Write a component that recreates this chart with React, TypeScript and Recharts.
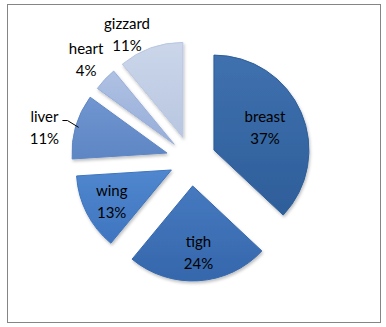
import React from "react";
import { PieChart, Pie, Cell } from "recharts";

const categories = ["breast", "tigh", "wing", "liver", "heart", "gizzard"];
const values = [37, 24, 13, 11, 4, 11];
const percentLabels = ["37%", "24%", "13%", "11%", "4%", "11%"];

const colors = ["#2E5E9A", "#3567AC", "#3E75BE", "#5E86C4", "#97AED9", "#B8C6E0"];
const lightColors = ["#3F71AE", "#4679BF", "#5087CF", "#7096D0", "#AFC1E3", "#CBD6EA"];
const explode = [25, 26, 22, 25, 23, 24];
const labelRadius = [0.59, 0.7, 0.71, 1.32, 1.29, 1.24];
const labelShift = [-1, -1.5, -0.7, -4, 0.8, -8.5];

const data = categories.map((name, i) => ({ name, value: values[i] }));
const total = values.reduce((a, b) => a + b, 0);

const CX = 191;
const CY = 160;
const R = 95;
const RAD = Math.PI / 180;

function midClock(i: number) {
  let cum = 0;
  for (let k = 0; k < i; k++) cum += values[k];
  return ((cum + values[i] / 2) / total) * 360;
}

function makeLabel(slice: number) {
  return (props: any) => {
    if (props.index !== slice) return null;
    const a = (midClock(slice) + labelShift[slice]) * RAD;
    const r = R * labelRadius[slice];
    const x = props.cx + r * Math.sin(a);
    const y = props.cy - r * Math.cos(a);
    const parts: any[] = [];
    if (categories[slice] === "liver") {
      const ea = midClock(slice) * RAD;
      const ex = props.cx + (R - 3) * Math.sin(ea);
      const ey = props.cy - (R - 3) * Math.cos(ea);
      parts.push(
        <polyline
          key="leader"
          points={`${x + 18},${y - 6} ${x + 23},${y - 6} ${ex},${ey}`}
          fill="none"
          stroke="#000"
          strokeWidth={1}
        />
      );
    }
    parts.push(
      <text
        key="t1"
        x={x}
        y={y - 11}
        textAnchor="middle"
        dominantBaseline="central"
        fontFamily="Lato"
        fontSize={15}
        fill="#000"
      >
        {categories[slice]}
      </text>
    );
    parts.push(
      <text
        key="t2"
        x={x}
        y={y + 11}
        textAnchor="middle"
        dominantBaseline="central"
        fontFamily="Lato"
        fontSize={15}
        fill="#000"
      >
        {percentLabels[slice]}
      </text>
    );
    return <g>{parts}</g>;
  };
}

export default function App() {
  return (
    <div style={{ position: "absolute", left: 0, top: 0, width: 386, height: 327, background: "#fff" }}>
      <div
        style={{
          position: "absolute",
          left: 7,
          top: 4,
          width: 372,
          height: 317,
          border: "1px solid #858585",
          boxSizing: "content-box",
        }}
      />
      <div style={{ position: "absolute", left: 0, top: 0 }}>
        <PieChart width={386} height={327} margin={{ top: 0, right: 0, bottom: 0, left: 0 }}>
          <defs>
            {categories.map((c, i) => (
              <linearGradient key={c} id={`grad-${i}`} x1="0" y1="0" x2="0" y2="1">
                <stop offset="0%" stopColor={lightColors[i]} />
                <stop offset="100%" stopColor={colors[i]} />
              </linearGradient>
            ))}
            <filter id="shadow" x="-20%" y="-20%" width="140%" height="140%">
              <feDropShadow dx="1" dy="2" stdDeviation="1.5" floodColor="#000" floodOpacity="0.25" />
            </filter>
          </defs>
          {categories.map((c, slice) => {
            const a = midClock(slice) * RAD;
            const cx = CX + explode[slice] * Math.sin(a);
            const cy = CY - explode[slice] * Math.cos(a);
            return (
              <Pie
                key={c}
                data={data}
                dataKey="value"
                nameKey="name"
                cx={cx}
                cy={cy}
                innerRadius={0}
                outerRadius={R}
                startAngle={90}
                endAngle={-270}
                stroke="none"
                isAnimationActive={false}
                labelLine={false}
                label={makeLabel(slice)}
              >
                {data.map((d, i) => (
                  <Cell
                    key={d.name}
                    fill={i === slice ? `url(#grad-${i})` : "none"}
                    stroke={i === slice ? colors[i] : "none"}
                    strokeWidth={1}
                    filter={i === slice ? "url(#shadow)" : undefined}
                  />
                ))}
              </Pie>
            );
          })}
        </PieChart>
      </div>
    </div>
  );
}
